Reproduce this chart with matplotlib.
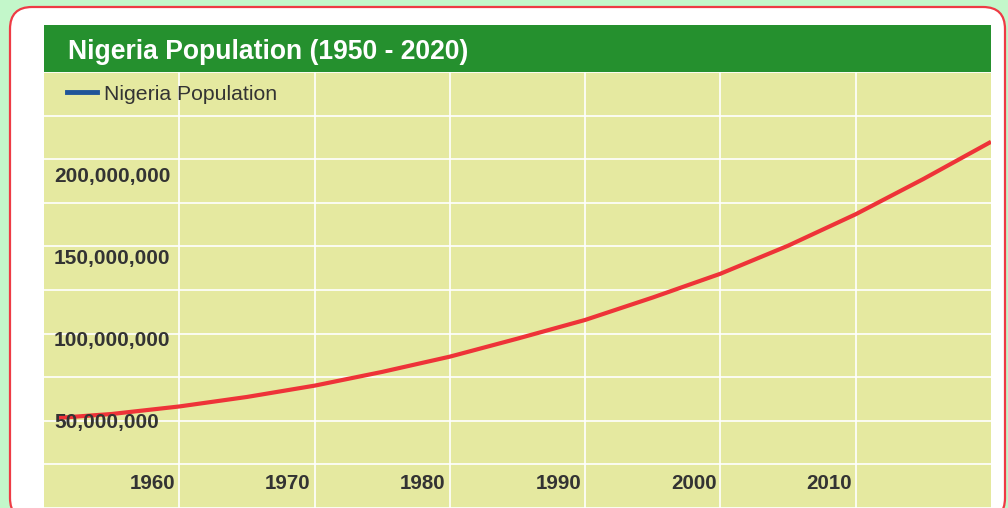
import numpy as np
import matplotlib
matplotlib.use("Agg")
import matplotlib.pyplot as plt
from matplotlib.patches import FancyBboxPatch, Rectangle
from matplotlib.lines import Line2D
from matplotlib.transforms import IdentityTransform, blended_transform_factory, ScaledTranslation

plt.rcParams['font.family'] = ['Liberation Sans', 'DejaVu Sans']

# ---- data ----
title = "Nigeria Population (1950 - 2020)"
series_name = "Nigeria Population"
years = [1951, 1955, 1960, 1965, 1970, 1975, 1980, 1985, 1990, 1995, 2000, 2005, 2010, 2015, 2020]
population = [51.3e6, 53.7e6, 58.3e6, 64.1e6, 71.0e6, 79.4e6, 88.7e6, 99.7e6, 111.1e6,
              124.8e6, 139.3e6, 156.4e6, 175.6e6, 197.1e6, 219.8e6]
x_ticks = [1960, 1970, 1980, 1990, 2000, 2010]
x_tick_labels = ["1960", "1970", "1980", "1990", "2000", "2010"]
y_ticks = [50e6, 100e6, 150e6, 200e6]
y_tick_labels = ["50,000,000", "100,000,000", "150,000,000", "200,000,000"]

# ---- style ----
W, H = 1008, 508
outer_bg = "#c3f7ca"
card_edge = "#ee3b45"
title_green = "#25902e"
plot_bg = "#e5e9a0"
line_red = "#ee3338"
legend_blue = "#1f5599"
text_dark = "#333333"

fig = plt.figure(figsize=(W / 100, H / 100), dpi=100)
fig.patch.set_facecolor(outer_bg)

card = FancyBboxPatch((10, -12), 995, 513, boxstyle="round,pad=0,rounding_size=22",
                      transform=IdentityTransform(), facecolor="white",
                      edgecolor=card_edge, linewidth=1.6, zorder=-5)
fig.add_artist(card)

bar = Rectangle((44, H - 72), 947, 47, transform=IdentityTransform(),
                facecolor=title_green, edgecolor="none", zorder=-4)
fig.add_artist(bar)
fig.text(67.5 / W, (H - 58.7) / H, title, color="white", fontsize=19.1,
         fontweight="bold", ha="left", va="baseline")

ax = fig.add_axes([44 / W, 0, 947 / W, 436 / H])
ax.set_facecolor(plot_bg)
for s in ax.spines.values():
    s.set_visible(False)

ymin, ymax = -3.66e6, 262.4e6
ax.set_xlim(1950, 2020)
ax.set_ylim(ymin, ymax)
ax.set_xticks(x_ticks)
ax.set_yticks(np.linspace(ymin, ymax, 11))
ax.tick_params(length=0, labelbottom=False, labelleft=False)
ax.grid(True, color="white", linewidth=1.2)
ax.set_axisbelow(True)

ax.plot(years, population, color=line_red, linewidth=3.0, solid_capstyle="butt",
        solid_joinstyle="round", zorder=3)

# x labels inside the plot, right-aligned at the grid lines
tx = blended_transform_factory(ax.transData, ax.transAxes) + ScaledTranslation(-4 / 100, 0, fig.dpi_scale_trans)
for xv, lab in zip(x_ticks, x_tick_labels):
    ax.text(xv, 24.8 / 436, lab, transform=tx, ha="right", va="center",
            fontsize=14.8, fontweight="bold", color=text_dark, zorder=4)

# y labels inside the plot
ty = blended_transform_factory(ax.transAxes, ax.transData) + ScaledTranslation(0, -2 / 100, fig.dpi_scale_trans)
for yv, lab in zip(y_ticks, y_tick_labels):
    ax.text(10 / 947, yv, lab, transform=ty, ha="left", va="center",
            fontsize=15.0, fontweight="bold", color=text_dark, zorder=4)

handle = Line2D([], [], color=legend_blue, linewidth=3.5)
leg = ax.legend([handle], [series_name], loc="center left",
                bbox_to_anchor=(23 / 947, 1 - 22 / 436), frameon=False,
                borderpad=0, borderaxespad=0, handlelength=1.42, handletextpad=0.33,
                fontsize=15.3, labelcolor=text_dark)

fig.savefig("out.png", dpi=100, facecolor=fig.get_facecolor())
